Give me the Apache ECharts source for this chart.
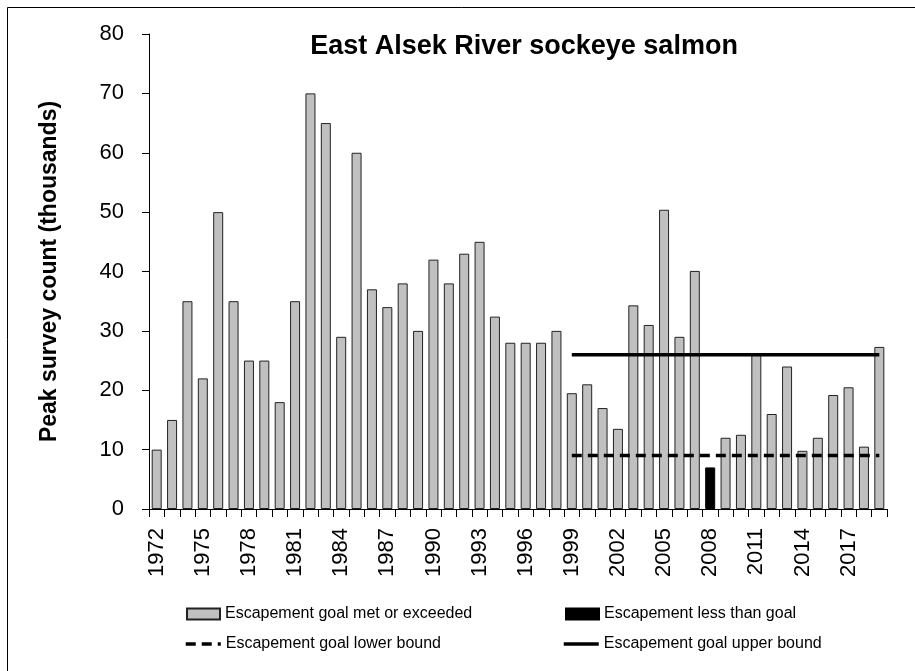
<!DOCTYPE html>
<html>
<head>
<meta charset="utf-8">
<title>East Alsek River sockeye salmon</title>
<script src="https://cdn.jsdelivr.net/npm/echarts@6/dist/echarts.min.js"></script>
<style>
  html, body { margin: 0; padding: 0; background: #ffffff; }
  #chart { width: 915px; height: 671px; }
</style>
</head>
<body>
<div id="chart"></div>
<script>
// survey years
var years = ['1972', '1973', '1974', '1975', '1976', '1977', '1978', '1979', '1980', '1981',
  '1982', '1983', '1984', '1985', '1986', '1987', '1988', '1989', '1990', '1991',
  '1992', '1993', '1994', '1995', '1996', '1997', '1998', '1999', '2000', '2001',
  '2002', '2003', '2004', '2005', '2006', '2007', '2008', '2009', '2010', '2011',
  '2012', '2013', '2014', '2015', '2016', '2017', '2018', '2019'];

// peak counts (thousands), goal met or exceeded
var metGoal = [10, 15, 35, 22, 50, 35, 25, 25, 18, 35,
  70, 65, 29, 60, 37, 34, 38, 30, 42, 38,
  43, 45, 32.4, 28, 28, 28, 30, 19.5, 21, 17,
  13.5, 34.3, 31, 50.4, 29, 40.1, null, 12, 12.5, 26,
  16, 24, 9.8, 12, 19.2, 20.5, 10.5, 27.3];

// peak counts (thousands), less than goal
var belowGoal = [null, null, null, null, null, null, null, null, null, null,
  null, null, null, null, null, null, null, null, null, null,
  null, null, null, null, null, null, null, null, null, null,
  null, null, null, null, null, null, 7, null, null, null,
  null, null, null, null, null, null, null, null];

// escapement goal range, in place from 1999
var lowerBound = [null, null, null, null, null, null, null, null, null, null,
  null, null, null, null, null, null, null, null, null, null,
  null, null, null, null, null, null, null, 9, 9, 9,
  9, 9, 9, 9, 9, 9, 9, 9, 9, 9,
  9, 9, 9, 9, 9, 9, 9, 9];
var upperBound = [null, null, null, null, null, null, null, null, null, null,
  null, null, null, null, null, null, null, null, null, null,
  null, null, null, null, null, null, null, 26, 26, 26,
  26, 26, 26, 26, 26, 26, 26, 26, 26, 26,
  26, 26, 26, 26, 26, 26, 26, 26];

var tickFont = 'Liberation Sans';
var legendText = { fontFamily: 'Liberation Sans', fontSize: 16, color: '#000' };

var chart = echarts.init(document.getElementById('chart'));
chart.setOption({
  animation: false,
  backgroundColor: '#ffffff',
  title: {
    text: 'East Alsek River sockeye salmon',
    left: 519,
    top: 28,
    textAlign: 'center',
    textStyle: { fontFamily: 'Liberation Sans', fontWeight: 'bold', fontSize: 27, color: '#000' }
  },
  graphic: [{
    type: 'rect',
    shape: { x: 7.5, y: 7.5, width: 930, height: 700 },
    style: { fill: 'none', stroke: '#000', lineWidth: 1 },
    silent: true
  }],
  legend: [
    { data: [{ name: 'Escapement goal met or exceeded', icon: 'rect' }], left: 181, top: 601, itemWidth: 33, itemHeight: 11, textStyle: legendText },
    { data: [{ name: 'Escapement less than goal', icon: 'rect' }], left: 560, top: 601, itemWidth: 33, itemHeight: 11, textStyle: legendText },
    { data: ['Escapement goal lower bound'], left: 179, top: 631, itemWidth: 35, itemHeight: 11, textStyle: legendText, itemStyle: { opacity: 0 }, lineStyle: { width: 3.5 } },
    { data: ['Escapement goal upper bound'], left: 557, top: 631, itemWidth: 35, itemHeight: 11, textStyle: legendText, itemStyle: { opacity: 0 }, lineStyle: { width: 3.5 } }
  ],
  grid: { left: 149, right: 28, top: 34, bottom: 162, containLabel: false },
  xAxis: {
    type: 'category',
    data: years,
    axisLine: { lineStyle: { color: '#000', width: 1 } },
    axisTick: { show: true, interval: 0, length: 8, lineStyle: { color: '#000' } },
    axisLabel: {
      interval: 2,
      rotate: 90,
      margin: 19,
      fontFamily: tickFont,
      fontSize: 22,
      color: '#000'
    }
  },
  yAxis: {
    type: 'value',
    min: 0,
    max: 80,
    interval: 10,
    name: 'Peak survey count (thousands)',
    nameLocation: 'middle',
    nameGap: 88,
    nameTextStyle: { fontFamily: 'Liberation Sans', fontWeight: 'bold', fontSize: 23, color: '#000' },
    axisLine: { show: true, lineStyle: { color: '#000', width: 1 } },
    axisTick: { show: true, length: 7, lineStyle: { color: '#000' } },
    axisLabel: { margin: 25, fontFamily: tickFont, fontSize: 22, color: '#000' },
    splitLine: { show: false }
  },
  series: [
    {
      name: 'Escapement goal met or exceeded',
      type: 'bar',
      data: metGoal,
      barWidth: 10,
      barGap: '-100%',
      itemStyle: { color: '#c0c0c0', borderColor: '#222', borderWidth: 1 }
    },
    {
      name: 'Escapement less than goal',
      type: 'bar',
      data: belowGoal,
      barWidth: 10,
      barGap: '-100%',
      itemStyle: { color: '#000', borderColor: '#000', borderWidth: 1 }
    },
    {
      name: 'Escapement goal lower bound',
      type: 'line',
      data: lowerBound,
      symbol: 'none',
      lineStyle: { color: '#000', width: 3.5, type: [10, 6] },
      itemStyle: { color: '#000' }
    },
    {
      name: 'Escapement goal upper bound',
      type: 'line',
      data: upperBound,
      symbol: 'none',
      lineStyle: { color: '#000', width: 3.5 },
      itemStyle: { color: '#000' }
    }
  ]
});
</script>
</body>
</html>
